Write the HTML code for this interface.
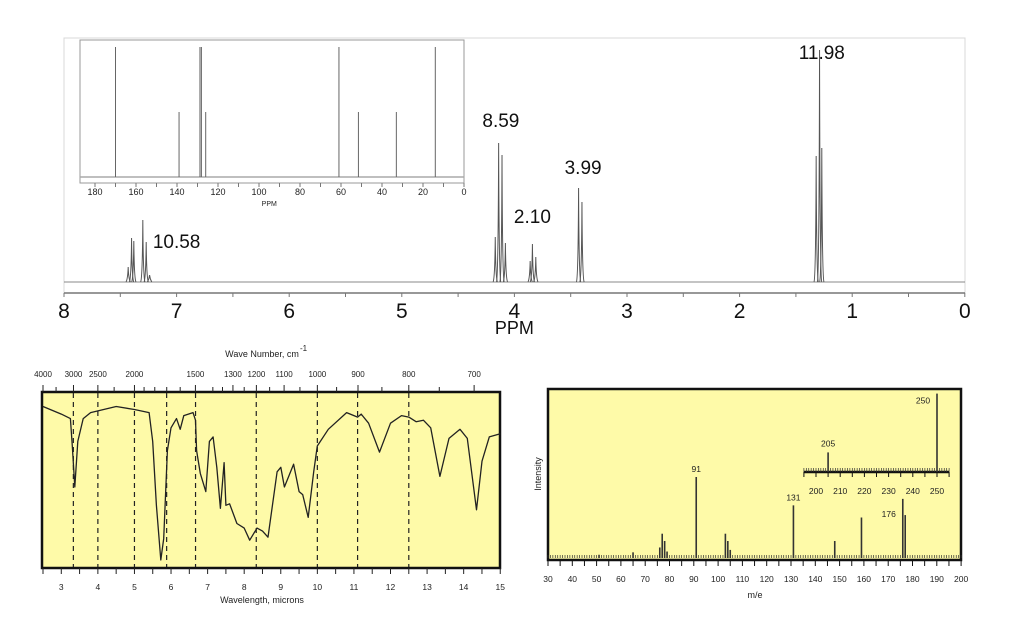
<!DOCTYPE html>
<html><head><meta charset="utf-8"><style>
body{margin:0;background:#fff;}
svg{display:block;font-family:"Liberation Sans",sans-serif;}
</style></head><body>
<svg id="s" width="1024" height="640" viewBox="0 0 1024 640">
<g id="nmr"></g>
<g id="c13"></g>
<g id="ir"></g>
<g id="ms"></g>
</svg>
<script>
// ---- H NMR data ----
const hPpm = [7.43,7.40,7.38,7.30,7.27,7.24, 4.17,4.14,4.11,4.08, 3.86,3.84,3.81, 3.43,3.40, 1.32,1.29,1.27];
const hHeight = [15,44,41,62,40,7, 45,139,127,39, 21,38,25, 94,80, 126,232,134];
const hLabels = ["10.58","8.59","2.10","3.99","11.98"];
const hLabelPpm = [7.00,4.12,3.84,3.39,1.27];
const hLabelHeight = [34,155,59,108,223];
const hTicks = [8,7,6,5,4,3,2,1,0];
// ---- C13 data ----
const cPpm = [170,139,128.8,128.1,126,61,51.5,33,14];
const cHeight = [130,65,130,130,65,130,65,65,130];
const cTicks = [180,160,140,120,100,80,60,40,20,0];
// ---- IR data ----
const irLambda = [2.5,3.0,3.25,3.3,3.37,3.45,3.6,3.8,4.5,5,5.4,5.5,5.6,5.72,5.8,5.9,6.0,6.15,6.25,6.35,6.6,6.67,6.7,6.8,6.95,7.05,7.15,7.25,7.35,7.45,7.5,7.6,7.8,8.0,8.15,8.35,8.5,8.65,8.9,9.0,9.1,9.35,9.5,9.6,9.75,9.9,10,10.3,10.8,11.1,11.2,11.4,11.7,12.0,12.3,12.5,12.7,12.9,13.1,13.35,13.6,13.9,14.1,14.35,14.5,14.7,15];
const irTrans = [93,88,85,67,40,70,85,89,93,91,89,70,28,-8,6,64,79,85,78,87,89,84,64,49,37,70,73,53,26,56,28,29,16,13,5,13,11,7,50,53,40,55,37,35,20,50,67,78,89,86,88,82,63,82,87,86,83,84,79,47,72,78,72,25,57,73,75];
const irDash = [3.33,4,5,5.88,6.67,8.33,10,11.1,12.5];
const irWave = [4000,3000,2500,2000,1500,1300,1200,1100,1000,900,800,700];
const irMicron = [3,4,5,6,7,8,9,10,11,12,13,14,15];
// ---- MS data ----
const msMz = [51,65,76,77,78,79,91,103,104,105,131,148,159,176,177];
const msInt = [4,7,13,30,21,8,100,30,21,10,65,21,50,73,53];
const msLabelMz = [91,131,176];
const msInsetMz = [205,250];
const msInsetInt = [20,80];
const msTicks = [30,40,50,60,70,80,90,100,110,120,130,140,150,160,170,180,190,200];
const msInsetTicks = [200,210,220,230,240,250];

const NS="http://www.w3.org/2000/svg";
function mk(parent,tag,attrs,text){const e=document.createElementNS(NS,tag);for(const k in attrs)e.setAttribute(k,attrs[k]);if(text!==undefined)e.textContent=text;parent.appendChild(e);return e;}

// ===== H NMR =====
const nmr=document.getElementById('nmr');
const hx=p=>64+(8-p)*112.6, hBase=282;
mk(nmr,'rect',{x:64,y:38,width:901,height:255,fill:'none',stroke:'#d8d8d8','stroke-width':1});
let bl=mk(nmr,'line',{x1:64,y1:hBase,x2:965,y2:hBase,stroke:'#888','stroke-width':1});

let ax=mk(nmr,'line',{x1:64,y1:293,x2:965,y2:293,stroke:'#777','stroke-width':1.5});

for(let v=8;v>=0;v-=0.5){mk(nmr,'line',{x1:hx(v),y1:293,x2:hx(v),y2:297,stroke:'#777'});}
hTicks.forEach(v=>{const t=mk(nmr,'text',{x:hx(v),y:318,'font-size':21,'text-anchor':'middle',fill:'#111'},String(v));
});
const pl=mk(nmr,'text',{x:hx(4),y:334,'font-size':18,'text-anchor':'middle',fill:'#111'},'PPM');

hPpm.forEach((p,i)=>{const x=hx(p),top=hBase-hHeight[i];
const e=mk(nmr,'path',{d:`M${x-2.2},${hBase} Q${x-0.4},${hBase-3} ${x},${top} Q${x+0.4},${hBase-3} ${x+2.2},${hBase}`,fill:'none',stroke:'#555','stroke-width':1});
});
hLabels.forEach((l,i)=>{const t=mk(nmr,'text',{x:hx(hLabelPpm[i]),y:hBase-hLabelHeight[i],'font-size':19,'text-anchor':'middle',fill:'#111'},l);
});

// ===== C13 =====
const c13=document.getElementById('c13');
const cx=p=>464-p*2.05, cBase=177;
mk(c13,'rect',{x:80,y:40,width:384,height:143,fill:'#fff',stroke:'#999','stroke-width':1});
mk(c13,'line',{x1:80,y1:cBase,x2:464,y2:cBase,stroke:'#aaa','stroke-width':1.5});
for(let v=0;v<=180;v+=10){mk(c13,'line',{x1:cx(v),y1:183,x2:cx(v),y2:187,stroke:'#777'});}
cTicks.forEach(v=>{const t=mk(c13,'text',{x:cx(v),y:195,'font-size':9,'text-anchor':'middle',fill:'#222'},String(v));
});
const cp=mk(c13,'text',{x:cx(95),y:206,'font-size':7,'text-anchor':'middle',fill:'#222'},'PPM');

cPpm.forEach((p,i)=>{const e=mk(c13,'line',{x1:cx(p),y1:cBase,x2:cx(p),y2:cBase-cHeight[i],stroke:'#666','stroke-width':1});
});

// ===== IR =====
const ir=document.getElementById('ir');
const ix=l=>43+(l-2.5)*36.58, iy=t=>568-8-(t+8)*1.52;
mk(ir,'rect',{x:42,y:392,width:458,height:176,fill:'#fefaa8',stroke:'#111','stroke-width':2.5});
irDash.forEach(l=>{const e=mk(ir,'line',{x1:ix(l),y1:393,x2:ix(l),y2:567,stroke:'#222','stroke-width':1.2,'stroke-dasharray':'5,4'});
});
const ipts=irLambda.map((l,i)=>ix(l).toFixed(1)+','+iy(irTrans[i]).toFixed(1)).join(' ');
const ic=mk(ir,'polyline',{points:ipts,fill:'none',stroke:'#222','stroke-width':1.3,'stroke-linejoin':'round'});

for(let l=2.5;l<=15.01;l+=0.5){mk(ir,'line',{x1:ix(l),y1:568,x2:ix(l),y2:574,stroke:'#222'});}
irMicron.forEach(m=>{const t=mk(ir,'text',{x:ix(m),y:590,'font-size':8.5,'text-anchor':'middle',fill:'#222'},String(m));
});
irWave.forEach(w=>{const l=10000/w;mk(ir,'line',{x1:ix(l),y1:385,x2:ix(l),y2:392,stroke:'#222'});
const t=mk(ir,'text',{x:ix(l),y:377,'font-size':8,'text-anchor':'middle',fill:'#222'},String(w));
});
[3500,2250,1900,1800,1700,1600,1400,1350,1250,1150,1050,950,850,750].forEach(w=>{const l=10000/w;mk(ir,'line',{x1:ix(l),y1:387,x2:ix(l),y2:392,stroke:'#222'});});
const it1=mk(ir,'text',{x:262,y:357,'font-size':9,'text-anchor':'middle',fill:'#222'},'Wave Number, cm');

mk(ir,'text',{x:300,y:351,'font-size':8,fill:'#222'},'-1');
const it2=mk(ir,'text',{x:262,y:603,'font-size':9,'text-anchor':'middle',fill:'#222'},'Wavelength, microns');


// ===== MS =====
const ms=document.getElementById('ms');
const mx=m=>548+(m-30)*2.43, mBase=558, my=v=>mBase-v*0.81;
mk(ms,'rect',{x:548,y:389,width:413,height:171,fill:'#fefaa8',stroke:'#111','stroke-width':2.5});
for(let m=30;m<=200;m++){mk(ms,'line',{x1:mx(m),y1:555,x2:mx(m),y2:558,stroke:'#333','stroke-width':0.7});}
for(let m=30;m<=200;m+=5){mk(ms,'line',{x1:mx(m),y1:560,x2:mx(m),y2:566,stroke:'#111'});}
msTicks.forEach(m=>{const t=mk(ms,'text',{x:mx(m),y:582,'font-size':8.5,'text-anchor':'middle',fill:'#222'},String(m));
});
const mt=mk(ms,'text',{x:755,y:598,'font-size':9,'text-anchor':'middle',fill:'#222'},'m/e');

const yt=mk(ms,'text',{x:0,y:0,'font-size':9,'text-anchor':'middle',fill:'#222',transform:'translate(541,474) rotate(-90)'},'Intensity');

msMz.forEach((m,i)=>{const e=mk(ms,'line',{x1:mx(m),y1:mBase,x2:mx(m),y2:my(msInt[i]),stroke:'#333','stroke-width':1.6});
});
msLabelMz.forEach(m=>{const i=msMz.indexOf(m);const dx=m===176?-14:0, dy=m===176?18:-5;
const t=mk(ms,'text',{x:mx(m)+dx,y:my(msInt[i])+dy,'font-size':8.5,'text-anchor':'middle',fill:'#222'},String(m));
});
// inset
const nx=m=>816+(m-200)*2.42, nBase=472, ny=v=>nBase-v*0.98;
mk(ms,'line',{x1:nx(195),y1:nBase,x2:nx(255),y2:nBase,stroke:'#111','stroke-width':2.5});
for(let m=195;m<=255;m++){mk(ms,'line',{x1:nx(m),y1:nBase-4,x2:nx(m),y2:nBase,stroke:'#333','stroke-width':0.7});}
for(let m=195;m<=255;m+=5){mk(ms,'line',{x1:nx(m),y1:nBase,x2:nx(m),y2:nBase+5,stroke:'#111'});}
msInsetTicks.forEach(m=>{const t=mk(ms,'text',{x:nx(m),y:494,'font-size':8.5,'text-anchor':'middle',fill:'#222'},String(m));
});
msInsetMz.forEach((m,i)=>{const e=mk(ms,'line',{x1:nx(m),y1:nBase,x2:nx(m),y2:ny(msInsetInt[i]),stroke:'#333','stroke-width':1.6});

const dx=m===250?-14:0,dy=m===250?10:-6;
const t=mk(ms,'text',{x:nx(m)+dx,y:ny(msInsetInt[i])+dy,'font-size':8.5,'text-anchor':'middle',fill:'#222'},String(m));
});
</script>
</body></html>
